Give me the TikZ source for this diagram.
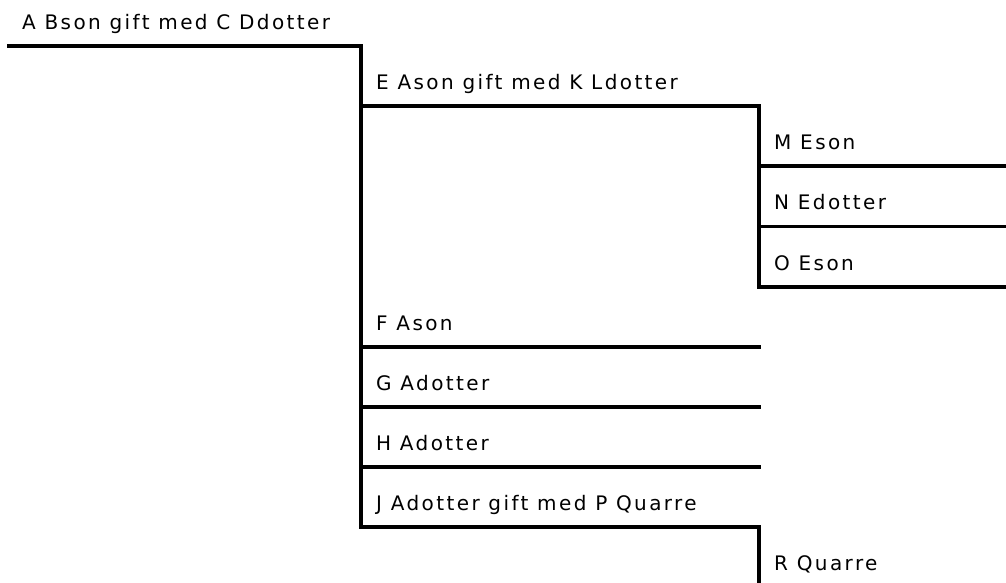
\documentclass[tikz,border=0pt]{standalone}
\usepackage{fontspec}
\setmainfont{DejaVu Sans}[LetterSpace=12]
\begin{document}
\begin{tikzpicture}[x=1pt,y=-1pt,
  lbl/.style={anchor=base west,inner sep=0pt,font=\fontsize{20}{24}\selectfont},
  bar/.style={line width=3.5pt,line join=miter,line cap=butt}]
\useasboundingbox (0,0) rectangle (1006,582);
% line coordinates
\coordinate (a0) at (7,46);
\coordinate (a1) at (361,46);
\coordinate (e1) at (759,106);
\coordinate (m1) at (1010,166);
\coordinate (n0) at (759,226.5); \coordinate (n1) at (1010,226.5);
\coordinate (o0) at (759,287);   \coordinate (o1) at (1010,287);
\coordinate (f0) at (361,347);   \coordinate (f1) at (760.7,347);
\coordinate (g0) at (361,407);   \coordinate (g1) at (760.7,407);
\coordinate (h0) at (361,467);   \coordinate (h1) at (760.7,467);
\coordinate (j0) at (361,527);   \coordinate (j1) at (759,527);
\coordinate (r0) at (759,590);
% labels
\node[lbl] (A) at (22,29) {A Bson gift med C Ddotter};
\node[lbl] (E) at (376,89) {E Ason gift med K Ldotter};
\node[lbl] (M) at (774,149) {M Eson};
\node[lbl] (N) at (774,209.5) {N Edotter};
\node[lbl] (O) at (774,270) {O Eson};
\node[lbl] (F) at (376,330) {F Ason};
\node[lbl] (G) at (376,390) {G Adotter};
\node[lbl] (H) at (376,450) {H Adotter};
\node[lbl] (J) at (376,510) {J Adotter gift med P Quarre};
\node[lbl] (R) at (774,570) {R Quarre};
% lines
\draw[bar] (a0) -- (a1) -- (j0) -- (j1) -- (r0);
\draw[bar] (a1 |- e1) -- (e1) -- (o0) -- (o1);
\draw[bar] (e1 |- m1) -- (m1);
\draw[bar] (n0) -- (n1);
\draw[bar] (f0) -- (f1);
\draw[bar] (g0) -- (g1);
\draw[bar] (h0) -- (h1);
\end{tikzpicture}
\end{document}
